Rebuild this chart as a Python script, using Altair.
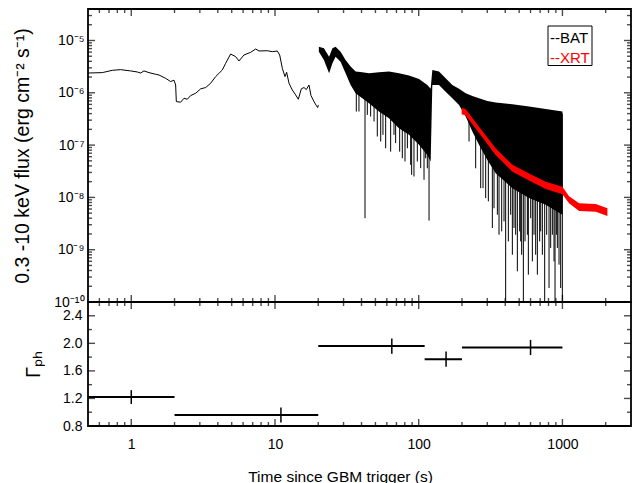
import altair as alt
import pandas as pd

# ---------------- data ----------------
# BAT, smooth part of the light curve (time s, flux erg cm^-2 s^-1)
bat_t = [0.502, 0.629, 0.738, 0.843, 0.990, 1.101, 1.162, 1.226, 1.328, 1.477, 1.559, 1.735,
         1.879, 1.983, 2.036, 2.058, 2.205, 2.327, 2.455, 2.589, 2.805, 3.039, 3.293, 3.567,
         3.865, 4.301, 4.536, 4.914, 5.325, 5.617, 6.084, 6.771, 7.336, 7.740, 8.844, 9.581,
         10.38, 10.78, 11.25, 11.74, 12.05, 12.52, 13.20, 13.93, 14.53, 15.25, 15.91, 16.52,
         17.24, 17.81, 18.68, 19.40, 19.82, 20.02]
bat_f = [2.39e-6, 2.43e-6, 2.69e-6, 2.77e-6, 2.62e-6, 2.50e-6, 2.39e-6, 2.62e-6, 2.43e-6, 2.26e-6,
         2.19e-6, 1.89e-6, 1.64e-6, 1.74e-6, 1.41e-6, 6.79e-7, 6.60e-7, 7.86e-7, 7.52e-7, 8.84e-7,
         9.8e-7, 1.19e-6, 1.26e-6, 1.52e-6, 2.04e-6, 2.73e-6, 3.66e-6, 5.52e-6, 4.91e-6, 4.06e-6,
         5.28e-6, 5.94e-6, 6.88e-6, 6.30e-6, 6.37e-6, 6.12e-6, 6.30e-6, 5.28e-6, 2.94e-6, 2.04e-6,
         2.47e-6, 1.52e-6, 1.13e-6, 9.1e-7, 7.52e-7, 1.19e-6, 1.26e-6, 1.15e-6, 1.41e-6, 8.84e-7,
         6.79e-7, 5.69e-7, 5.22e-7, 5.87e-7]

# BAT, noisy part: upper and lower edge of the dense black band
band_t = [20.2, 21.9, 23.8, 25.1, 26.4, 28.6, 31.0, 33.6, 36.4, 40.5, 45.1, 52.9, 62.1, 72.9,
          85.6, 100.5, 114.8, 121.1, 124.4, 138.4, 154.0, 171.4, 190.8, 212.3, 236.2, 262.8,
          300.4, 343.3, 448.3, 585.6, 764.7, 1000]
band_hi = [7.62e-6, 7.09e-6, 4.91e-6, 7.09e-6, 7.62e-6, 6.12e-6, 4.24e-6, 3.17e-6, 2.54e-6,
           2.47e-6, 2.36e-6, 2.47e-6, 2.54e-6, 2.36e-6, 2.13e-6, 1.84e-6, 1.41e-6, 1.19e-6,
           2.73e-6, 2.54e-6, 1.89e-6, 1.41e-6, 1.19e-6, 9.8e-7, 8.7e-7, 7.9e-7, 7.0e-7, 6.5e-7,
           6.04e-7, 5.45e-7, 4.92e-7, 4.38e-7]
band_lo = [6.12e-6, 4.24e-6, 2.36e-6, 3.66e-6, 4.91e-6, 3.94e-6, 2.36e-6, 1.41e-6, 9.8e-7,
           7.9e-7, 6.3e-7, 4.38e-7, 3.26e-7, 2.10e-7, 1.57e-7, 1.01e-7, 6.5e-8, 4.86e-8,
           1.41e-6, 1.41e-6, 1.05e-6, 7.9e-7, 5.87e-7, 3.51e-7, 1.82e-7, 1.01e-7, 5.2e-8,
           2.91e-8, 1.50e-8, 9.7e-9, 7.2e-9, 4.66e-9]

# BAT, downward spikes (time, lowest flux); first 26 leave the band near 1e-6, the rest near 4e-7
spike_t = [36.8, 42.3, 43.9, 46.3, 51.5, 54.4, 58.9, 63.8, 69.1, 76.9, 83.4, 87.9, 92.7, 97.8,
           108.9, 114.8, 118.0, 38.4, 48.9, 56.4, 67.3, 73.7, 80.3, 89.3, 103.2, 111.8,
           223.9, 249.1, 270.0, 292.4, 325.4, 362.1, 402.8, 436.4, 460.4, 485.7, 512.4, 534.7,
           570.2, 601.5, 617.7, 669.2, 706.1, 752.6, 806.9, 850.9, 888.2, 921.9, 946.9, 998.9,
           280.2, 305.2, 334.2, 352.6, 377.9, 392.3, 420.5, 448.3, 472.9, 504.1, 520.5, 549.1,
           579.3, 634.3, 651.5, 694.4, 725.0, 777.1, 828.5, 873.9, 907.2, 972.5]
spike_lo = [4.38e-7, 4.0e-9, 3.78e-7, 3.51e-7, 1.46e-7, 1.17e-7, 8.7e-8, 7.5e-8, 1.09e-7, 5.6e-8,
            8.7e-8, 4.2e-8, 2.51e-8, 4.86e-8, 2.17e-8, 3.6e-8, 3.6e-9, 4.38e-7, 2.82e-7, 1.57e-7,
            1.57e-7, 7.5e-8, 4.86e-8, 2.70e-8, 3.62e-8, 5.6e-8,
            1.17e-7, 3.6e-8, 1.50e-8, 9.7e-9, 2.6e-9, 1.93e-9, 1e-10, 4.66e-9, 2.6e-9, 3.86e-10,
            1.44e-9, 1e-10, 1.93e-9, 4.0e-9, 5.98e-10, 3.33e-10, 2.24e-9, 1e-10, 1.85e-10,
            1.93e-9, 1e-10, 1.08e-9, 5.17e-10, 1e-10,
            1.50e-8, 8.4e-9, 6.2e-9, 4.66e-9, 2.24e-9, 3.47e-9, 1.44e-9, 8.0e-10, 1.93e-9,
            2.24e-9, 8.0e-10, 1.44e-9, 3.33e-10, 1.93e-9, 8.0e-10, 1.44e-9, 8.0e-10, 1.93e-9,
            1.08e-9, 5.98e-10, 1.93e-9, 1.85e-10]
spike_top = [1.0e-6] * 26 + [4.0e-7] * 46

# XRT band (time, upper edge, lower edge)
xrt_t = [199, 212, 263, 343, 449, 586, 765, 1000, 1112, 1306, 1706, 2056]
xrt_hi = [5.2e-7, 4.9e-7, 2.25e-7, 8.7e-8, 4.2e-8, 2.85e-8, 2.0e-8, 1.6e-8, 1.05e-8, 7.7e-9,
          7.5e-9, 6.2e-9]
xrt_lo = [3.9e-7, 3.7e-7, 1.7e-7, 6.5e-8, 3.1e-8, 2.1e-8, 1.45e-8, 1.15e-8, 7.7e-9, 5.5e-9,
          5.3e-9, 4.4e-9]

# photon index
g_t = [1, 11, 65, 155, 600]
g_tmin = [0.3, 2, 20, 110, 200]
g_tmax = [2, 20, 110, 200, 1000]
g_val = [1.22, 0.96, 1.96, 1.77, 1.94]
g_err = [0.10, 0.11, 0.11, 0.11, 0.11]

# legend
legend_labels = ["--BAT", "--XRT"]
legend_colors = ["black", "red"]

# ticks
x_major = [1, 10, 100, 1000]
x_minor = [0.6, 0.7, 0.8, 0.9, 2, 3, 4, 5, 6, 7, 8, 9, 20, 30, 40, 50, 60, 70, 80, 90,
           200, 300, 400, 500, 600, 700, 800, 900, 2000]
ytop_major = [1e-10, 1e-9, 1e-8, 1e-7, 1e-6, 1e-5]
ytop_labels = ["10\u207b\u00b9\u2070", "10\u207b\u2079", "10\u207b\u2078", "10\u207b\u2077",
               "10\u207b\u2076", "10\u207b\u2075"]
ytop_minor = [m * d for d in [1e-10, 1e-9, 1e-8, 1e-7, 1e-6] for m in range(2, 10)] + [2e-5, 3e-5]
g_major = [0.8, 1.2, 1.6, 2.0, 2.4]
g_minor = [1.0, 1.4, 1.8, 2.2]

# ---------------- tables ----------------
line_df = pd.DataFrame({"t": bat_t, "f": bat_f})
band_df = pd.DataFrame({"t": band_t, "hi": band_hi, "lo": band_lo})
spike_df = pd.DataFrame({"t": spike_t, "lo": spike_lo, "top": spike_top})
xrt_df = pd.DataFrame({"t": xrt_t, "hi": xrt_hi, "lo": xrt_lo})
g_df = pd.DataFrame({"t": g_t, "tmin": g_tmin, "tmax": g_tmax, "g": g_val, "err": g_err})
g_df["glo"] = g_df["g"] - g_df["err"]
g_df["ghi"] = g_df["g"] + g_df["err"]


def tick_table(major, minor):
    return pd.DataFrame({"v": list(major) + list(minor),
                         "kind": ["major"] * len(major) + ["minor"] * len(minor)})


xt_df = tick_table(x_major, x_minor)
yt_df = tick_table(ytop_major, ytop_minor)
gt_df = tick_table(g_major, g_minor)

# ---------------- scales ----------------
W, H_TOP, H_BOT = 543, 293, 124
MAJ, MIN = 7, 4
X_SCALE = alt.Scale(type="log", domain=[0.5, 3000], nice=False)
Y_TOP = alt.Scale(type="log", domain=[1e-10, 4e-5], nice=False)
Y_BOT = alt.Scale(domain=[0.8, 2.6], nice=False, zero=False)

TICK_SIZE = alt.condition(alt.datum.kind == "major", alt.value(2 * MAJ), alt.value(2 * MIN))


def x_ticks(ypos):
    # inward ticks: centred on the frame edge, the outer half is clipped away
    return alt.Chart(xt_df).mark_tick(orient="vertical", clip=True, color="black",
                                      thickness=1.4).encode(
        x=alt.X("v:Q", scale=X_SCALE, axis=None), y=alt.value(ypos), size=TICK_SIZE)


def y_ticks(df, scale, xpos):
    return alt.Chart(df).mark_tick(orient="horizontal", clip=True, color="black",
                                   thickness=1.4).encode(
        y=alt.Y("v:Q", scale=scale, axis=None), x=alt.value(xpos), size=TICK_SIZE)


label_expr = ""
for v, lab in zip(ytop_major, ytop_labels):
    label_expr += f"datum.value < {v * 3:g} ? '{lab}' : "
label_expr += "''"

# ---------------- top panel ----------------
band = alt.Chart(band_df).mark_area(color="black", opacity=1).encode(
    x=alt.X("t:Q", scale=X_SCALE, axis=None),
    y=alt.Y("hi:Q", scale=Y_TOP,
            axis=alt.Axis(values=ytop_major, labelExpr=label_expr, ticks=False,
                          domain=False, grid=False, labelPadding=4, labelOverlap=False,
                          title="0.3 -10 keV flux (erg cm\u207b\u00b2 s\u207b\u00b9)",
                          titlePadding=21, titleFontSize=19.5)),
    y2="lo:Q",
)
line = alt.Chart(line_df).mark_line(color="black", strokeWidth=1).encode(
    x=alt.X("t:Q", scale=X_SCALE, axis=None),
    y=alt.Y("f:Q", scale=Y_TOP, axis=None),
)
spikes = alt.Chart(spike_df).mark_rule(color="black", strokeWidth=1).encode(
    x=alt.X("t:Q", scale=X_SCALE, axis=None),
    y=alt.Y("lo:Q", scale=Y_TOP, axis=None),
    y2="top:Q",
)
xrt = alt.Chart(xrt_df).mark_area(color="red", opacity=1).encode(
    x=alt.X("t:Q", scale=X_SCALE, axis=None),
    y=alt.Y("hi:Q", scale=Y_TOP, axis=None),
    y2="lo:Q",
)
leg_df = pd.DataFrame({"label": legend_labels, "color": legend_colors})
leg_box = alt.Chart(leg_df.iloc[[0]]).mark_rect(fill="white", stroke="black", strokeWidth=1).encode(
    x=alt.value(460), x2=alt.value(504), y=alt.value(17), y2=alt.value(56.5))
leg_bat = alt.Chart(leg_df.iloc[[0]]).mark_text(
    align="left", baseline="middle", fontSize=15, color=legend_colors[0]).encode(
    x=alt.value(462), y=alt.value(28.5), text="label:N")
leg_xrt = alt.Chart(leg_df.iloc[[1]]).mark_text(
    align="left", baseline="middle", fontSize=15, color=legend_colors[1]).encode(
    x=alt.value(462), y=alt.value(48.5), text="label:N")

top = alt.layer(
    band, line, spikes, xrt,
    x_ticks(0), x_ticks(H_TOP), y_ticks(yt_df, Y_TOP, 0), y_ticks(yt_df, Y_TOP, W),
    leg_box, leg_bat, leg_xrt,
).resolve_axis(x="independent", y="independent").properties(width=W, height=H_TOP)

# ---------------- bottom panel ----------------
hbar = alt.Chart(g_df).mark_rule(color="black", strokeWidth=2, clip=True).encode(
    x=alt.X("tmin:Q", scale=X_SCALE,
            axis=alt.Axis(values=x_major, format="d", ticks=False, domain=False,
                          grid=False, labelPadding=11, labelOverlap=False,
                          title="Time since GBM trigger (s)", titleFontSize=15.5,
                          titleX=252, titleY=55, titleBaseline="alphabetic")),
    x2="tmax:Q",
    y=alt.Y("g:Q", scale=Y_BOT,
            axis=alt.Axis(values=g_major, format=".1f", ticks=False, domain=False,
                          grid=False, labelPadding=6, labelOverlap=False,
                          title="\u0393\u209a\u2095", titlePadding=19, titleFontSize=20)),
)
vbar = alt.Chart(g_df).mark_rule(color="black", strokeWidth=1.5).encode(
    x=alt.X("t:Q", scale=X_SCALE, axis=None),
    y=alt.Y("glo:Q", scale=Y_BOT, axis=None),
    y2="ghi:Q",
)
bottom = alt.layer(
    hbar, vbar,
    x_ticks(0), x_ticks(H_BOT), y_ticks(gt_df, Y_BOT, 0), y_ticks(gt_df, Y_BOT, W),
).resolve_axis(x="independent", y="independent").properties(width=W, height=H_BOT)

chart = alt.vconcat(top, bottom, spacing=0, bounds="flush").properties(
    padding={"left": 3, "top": 0, "right": 2, "bottom": 0}
).configure(font="Liberation Sans").configure_view(
    stroke="black", strokeWidth=1.8
).configure_axis(
    labelFont="Liberation Sans", titleFont="Liberation Sans", labelFontSize=14,
    titleFontWeight="normal", labelColor="black", titleColor="black"
)

chart.save("out.html", embed_options={"renderer": "svg", "actions": False})
